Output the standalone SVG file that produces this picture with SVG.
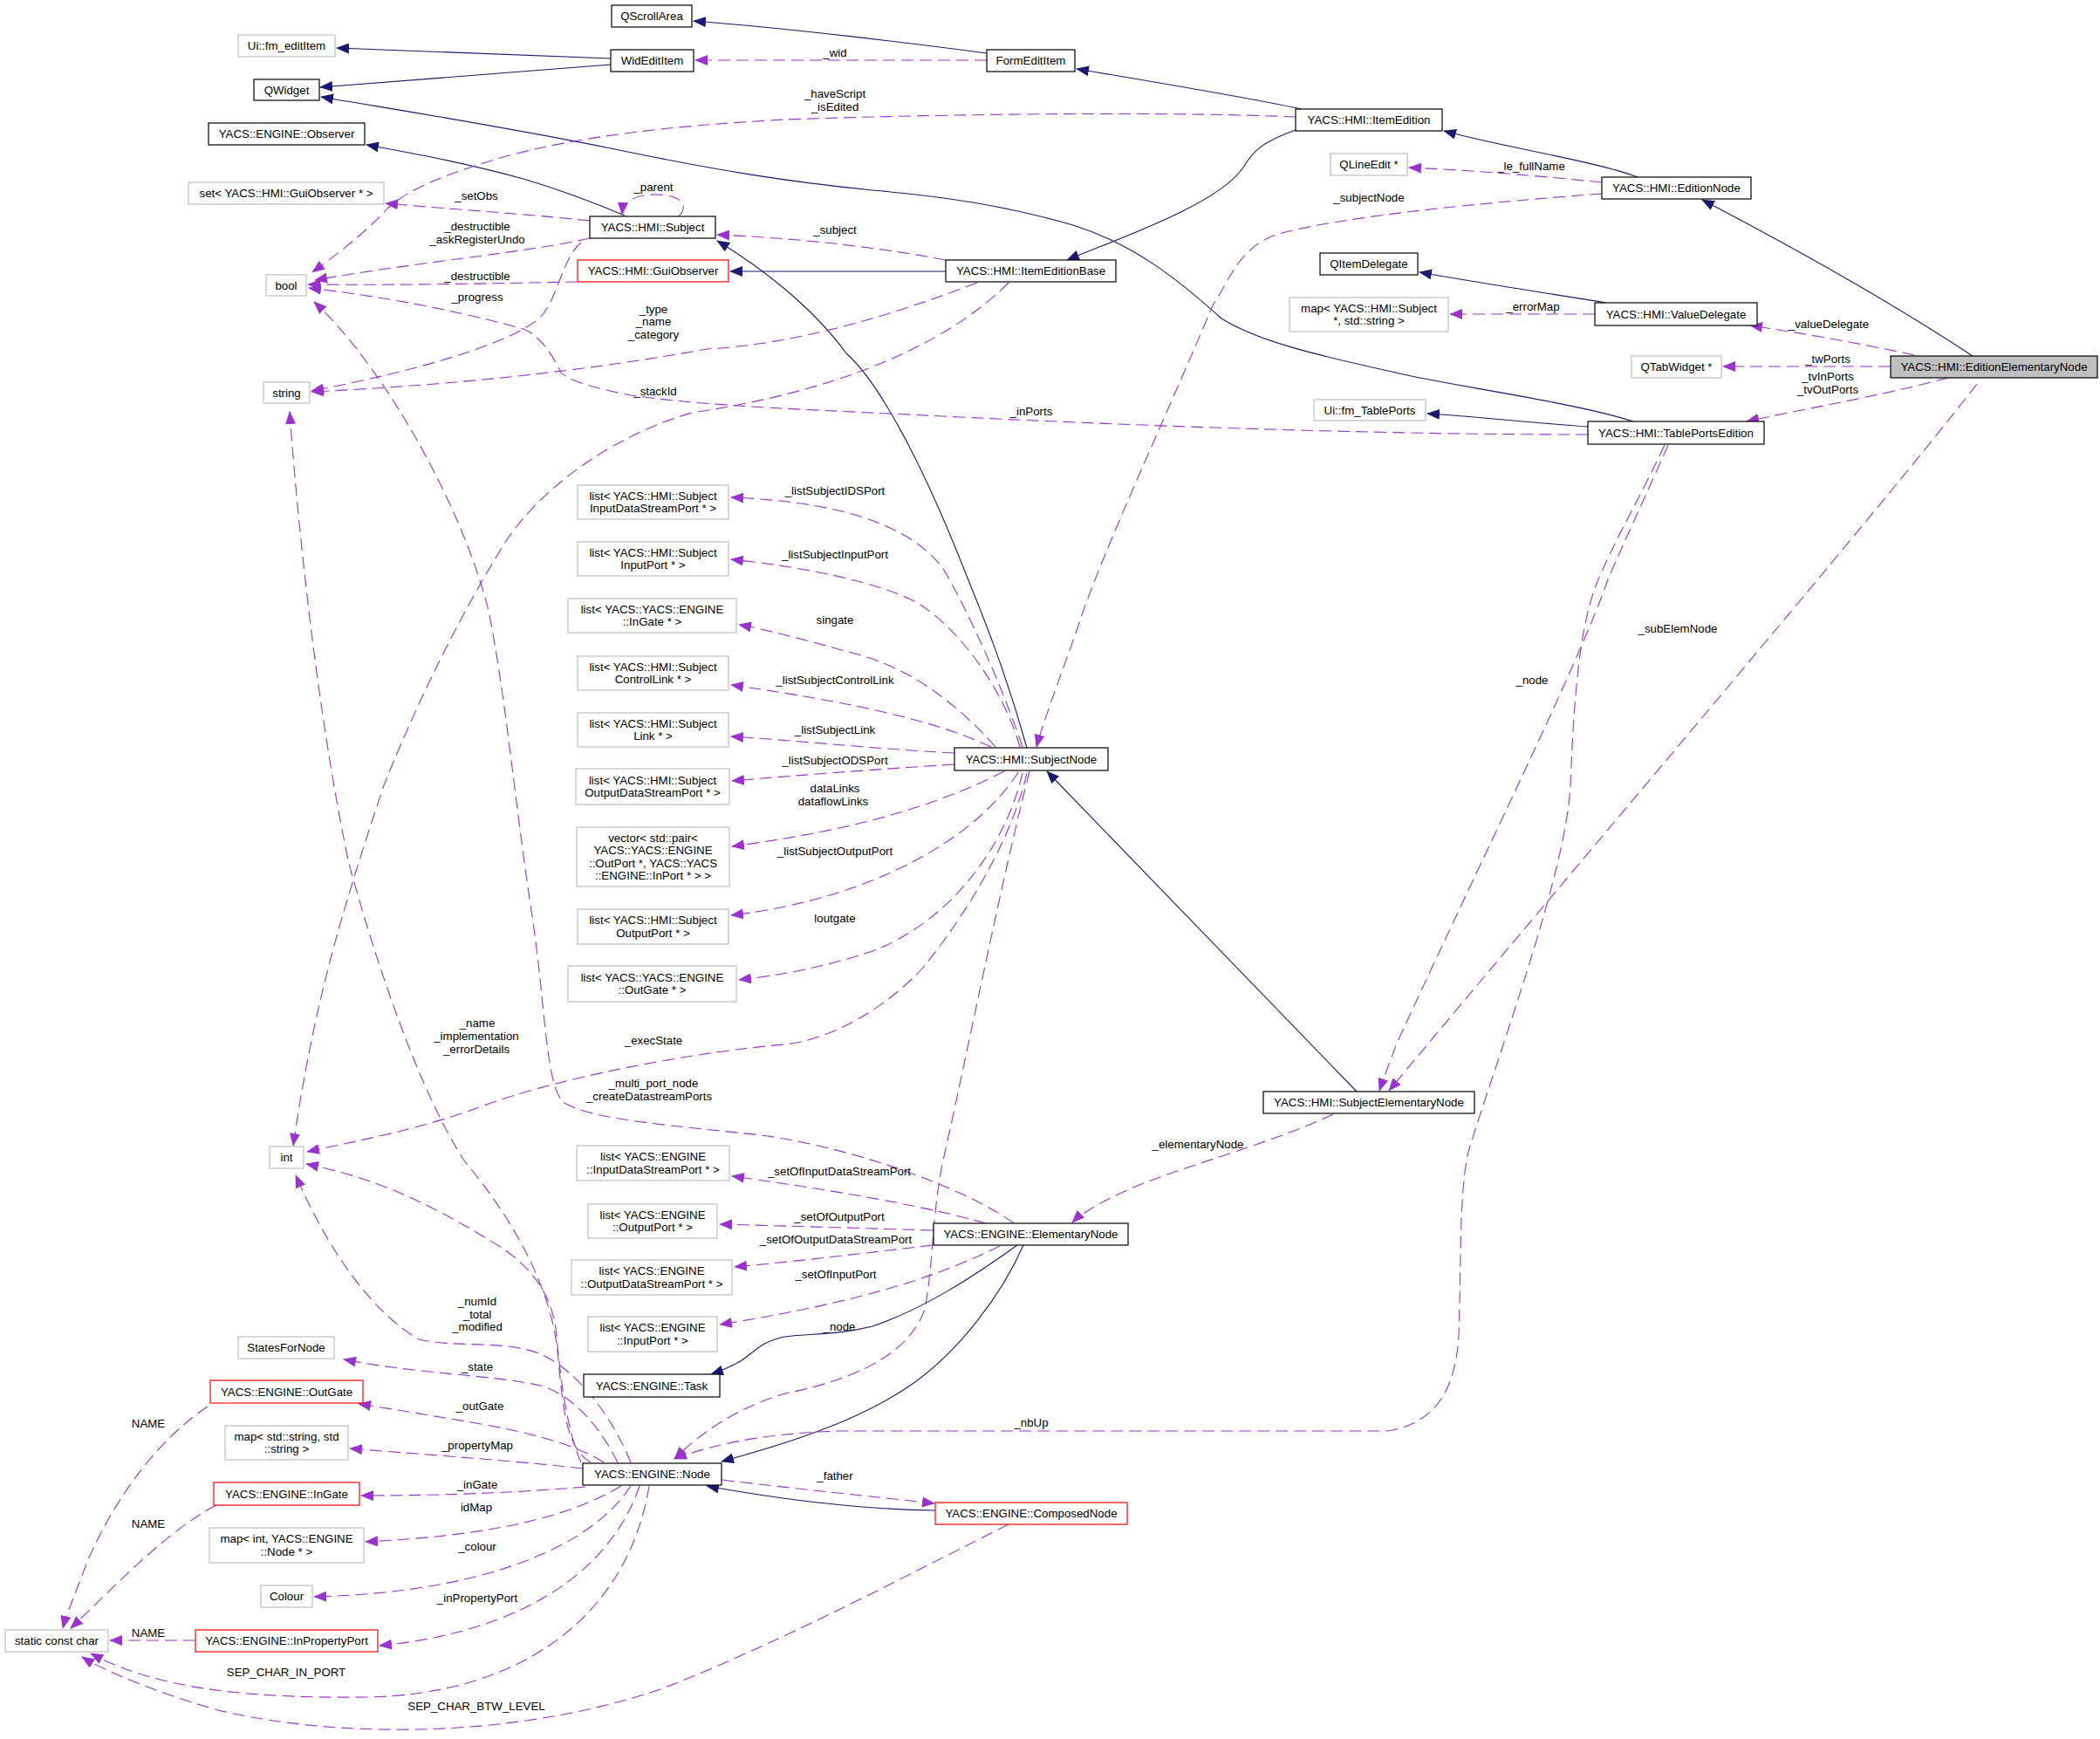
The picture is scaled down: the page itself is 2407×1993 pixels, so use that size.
<svg xmlns="http://www.w3.org/2000/svg" width="2407" height="1993" viewBox="0 0 2407 1993">
<style>
rect{fill:#fff;stroke:#000;stroke-width:1.2}
.g rect{stroke:#bfbfbf}
.r rect{stroke:#ff0000}
.f rect{fill:#bfbfbf}
text{font-family:"Liberation Sans",Arial,Helvetica,sans-serif;font-size:13.3px;text-anchor:middle;fill:#000}
.inh{stroke:#191970;fill:none;stroke-width:1.1;marker-end:url(#ai)}
.dep{stroke:#9a32cd;fill:none;stroke-width:1.1;stroke-dasharray:14,7;marker-end:url(#ad)}
</style>
<defs>
<marker id="ai" markerUnits="userSpaceOnUse" markerWidth="15" markerHeight="12" viewBox="0 0 15 12" refX="14" refY="6" orient="auto"><path d="M0,0 L15,6 L0,12 z" fill="#191970" stroke="none"/></marker>
<marker id="ad" markerUnits="userSpaceOnUse" markerWidth="15" markerHeight="12" viewBox="0 0 15 12" refX="14" refY="6" orient="auto"><path d="M0,0 L15,6 L0,12 z" fill="#9a32cd" stroke="none"/></marker>
</defs>
<rect x="0" y="0" width="2407" height="1993" style="fill:#fff;stroke:none"/>

<g id="edges">
<!-- inheritance -->
<path class="inh" d="M1131,61 C1050,50 900,32 795,24"/>
<path class="inh" d="M700,67 L386,55"/>
<path class="inh" d="M700,74 L367,100"/>
<path class="inh" d="M1492,125 C1420,110 1300,90 1234,79"/>
<path class="inh" d="M1877,203 C1830,185 1720,168 1655,150"/>
<path class="inh" d="M1485,149 C1445,163 1435,175 1425,192 C1395,235 1285,272 1223,298"/>
<path class="inh" d="M1084,311 L837,311"/>
<path class="inh" d="M716,247 C690,236 650,220 600,205 C530,186 470,175 420,166"/>
<path class="inh" d="M1177,857 C1150,760 1120,690 1100,640 C1060,540 1010,440 970,405 C930,350 870,305 822,276"/>
<path class="inh" d="M1872,483 C1800,460 1650,440 1600,427 C1500,405 1440,390 1400,365 C1350,320 1300,280 1230,258 C1150,235 1080,225 1000,218 C900,208 820,195 700,170 C550,140 430,122 368,111"/>
<path class="inh" d="M1820,489 C1750,484 1700,478 1636,474"/>
<path class="inh" d="M1841,347 C1780,337 1700,325 1627,312"/>
<path class="inh" d="M2261,408 C2150,335 2020,265 1951,229"/>
<path class="inh" d="M1555,1251 L1200,884"/>
<path class="inh" d="M1166,1427 C1120,1460 1060,1500 1000,1520 C960,1530 930,1528 900,1532 C870,1537 860,1555 845,1562 C832,1569 824,1572 815,1575"/>
<path class="inh" d="M1173,1427 C1150,1480 1100,1550 1040,1590 C980,1630 900,1655 827,1675"/>
<path class="inh" d="M1072,1731 C1000,1730 920,1723 810,1703"/>
<!-- usage -->
<path class="dep" d="M1131,69 L797,69"/>
<path class="dep" d="M1485,134 C1350,128 1100,130 900,137 C750,145 640,160 560,185 C480,210 460,225 444,239 C420,265 395,285 358,312"/>
<path class="dep" d="M1836,209 C1750,200 1680,195 1615,192"/>
<path class="dep" d="M1836,222 C1700,232 1520,250 1460,270 C1420,285 1410,320 1390,350 C1340,470 1260,640 1235,720 C1210,790 1195,830 1188,856"/>
<path class="dep" d="M1828,360 L1662,360"/>
<path class="dep" d="M2194,407 C2130,393 2060,381 2006,373"/>
<path class="dep" d="M2167,420 L1975,420"/>
<path class="dep" d="M2233,433 C2150,455 2060,470 2002,483"/>
<path class="dep" d="M2266,440 C2150,590 1800,1000 1592,1250"/>
<path class="dep" d="M1912,510 C1890,560 1862,620 1843,664 C1810,760 1700,980 1600,1198 C1592,1220 1586,1235 1581,1250"/>
<path class="dep" d="M1908,510 C1880,570 1850,620 1830,669 C1810,720 1804,800 1800,900 C1795,1000 1720,1200 1683,1320 C1672,1370 1675,1450 1672,1530 C1668,1600 1640,1632 1590,1640 L960,1640 C900,1642 830,1650 773,1672"/>
<path class="dep" d="M778,248 C790,235 782,223 750,223 C726,223 714,232 713,246"/>
<path class="dep" d="M676,253 C600,245 520,240 442,233"/>
<path class="dep" d="M676,273 C600,290 480,300 361,321"/>
<path class="dep" d="M662,323 C560,325 450,327 353,326"/>
<path class="dep" d="M666,278 C645,295 640,340 620,363 C590,392 480,425 357,448"/>
<path class="dep" d="M1820,498 C1600,498 1350,490 1100,478 C950,470 820,467 723,453 C680,445 650,435 643,427 C635,410 620,385 600,377 C520,355 440,340 354,330"/>
<path class="dep" d="M1084,298 C1000,282 900,272 822,269"/>
<path class="dep" d="M1120,324 C1000,370 900,395 810,400 C700,420 550,440 357,449"/>
<path class="dep" d="M1156,324 C1080,400 950,450 793,473 C700,500 620,560 580,620 C530,700 480,800 440,900 C390,1050 360,1150 336,1313"/>
<path class="dep" d="M1162,1402 C1120,1370 1000,1320 880,1302 C780,1290 680,1285 645,1263 C625,1240 625,1150 610,1050 C590,920 580,800 560,700 C530,580 440,420 360,346"/>
<path class="dep" d="M677,1676 C650,1660 646,1620 640,1560 C635,1480 590,1400 532,1330 C480,1250 430,1100 400,990 C370,850 345,650 332,472"/>
<path class="dep" d="M723,1676 C700,1620 660,1570 620,1552 C580,1535 520,1545 480,1535 C420,1500 370,1420 339,1347"/>
<path class="dep" d="M666,1676 C650,1640 642,1580 638,1530 C632,1470 594,1440 557,1419 C480,1372 420,1348 351,1334"/>
<path class="dep" d="M1177,886 C1160,960 1110,1045 1058,1109 C1020,1150 960,1190 900,1197 C800,1205 650,1233 560,1265 C480,1295 420,1305 352,1320"/>
<path class="dep" d="M1172,856 C1150,790 1110,700 1080,650 C1040,600 960,575 838,570"/>
<path class="dep" d="M1169,856 C1150,790 1100,720 1050,690 C1000,665 920,650 838,641"/>
<path class="dep" d="M1141,856 C1100,810 1050,770 990,752 C930,735 880,722 847,716"/>
<path class="dep" d="M1136,856 C1080,830 1000,808 838,785"/>
<path class="dep" d="M1094,863 C1000,858 930,850 838,844"/>
<path class="dep" d="M1094,876 C1000,882 920,888 839,895"/>
<path class="dep" d="M1151,884 C1080,920 990,950 839,970"/>
<path class="dep" d="M1167,885 C1120,960 1000,1030 838,1049"/>
<path class="dep" d="M1172,886 C1150,980 1080,1060 1000,1090 C940,1110 890,1118 847,1123"/>
<path class="dep" d="M1180,884 C1150,1000 1110,1200 1081,1330 C1068,1390 1070,1450 1060,1500 C1040,1560 960,1585 900,1597 C840,1615 800,1645 773,1672"/>
<path class="dep" d="M1528,1277 C1470,1305 1380,1330 1316,1354 C1270,1372 1240,1390 1229,1401"/>
<path class="dep" d="M1130,1402 C1080,1388 1000,1370 839,1348"/>
<path class="dep" d="M1069,1410 C1000,1408 900,1405 825,1403"/>
<path class="dep" d="M1069,1427 C1000,1435 920,1445 842,1452"/>
<path class="dep" d="M1146,1428 C1080,1460 1000,1490 825,1518"/>
<path class="dep" d="M708,1676 C690,1640 660,1600 620,1588 C560,1575 480,1575 394,1558"/>
<path class="dep" d="M692,1676 C660,1655 600,1640 540,1630 C480,1620 445,1614 411,1609"/>
<path class="dep" d="M668,1683 C600,1675 500,1668 401,1660"/>
<path class="dep" d="M671,1704 C600,1710 520,1714 414,1714"/>
<path class="dep" d="M712,1703 C650,1740 560,1760 419,1767"/>
<path class="dep" d="M723,1703 C680,1770 560,1825 360,1830"/>
<path class="dep" d="M733,1703 C700,1800 600,1870 435,1886"/>
<path class="dep" d="M744,1703 C720,1850 600,1942 420,1945 C260,1947 170,1930 104,1895"/>
<path class="dep" d="M1156,1747 C1050,1800 900,1880 760,1935 C600,1990 400,1995 250,1960 C180,1940 120,1915 94,1899"/>
<path class="dep" d="M828,1696 C900,1705 1000,1715 1071,1723"/>
<path class="dep" d="M224,1880 L126,1880"/>
<path class="dep" d="M248,1725 C190,1755 130,1820 81,1866"/>
<path class="dep" d="M238,1612 C180,1650 130,1720 100,1790 C85,1830 76,1850 72,1866"/>
</g>

<g id="labels">
<text x="957" y="65">_wid</text>
<text x="957" y="112">_haveScript</text>
<text x="957" y="127">_isEdited</text>
<text x="957" y="268">_subject</text>
<text x="1182" y="476">_inPorts</text>
<text x="957" y="567">_listSubjectIDSPort</text>
<text x="957" y="640">_listSubjectInputPort</text>
<text x="1569" y="231">_subjectNode</text>
<text x="1755" y="195">_le_fullName</text>
<text x="1757" y="356">_errorMap</text>
<text x="2096" y="376">_valueDelegate</text>
<text x="2095" y="416">_twPorts</text>
<text x="2095" y="436">_tvInPorts</text>
<text x="2095" y="451">_tvOutPorts</text>
<text x="749" y="219">_parent</text>
<text x="546" y="229">_setObs</text>
<text x="547" y="264">_destructible</text>
<text x="547" y="279">_askRegisterUndo</text>
<text x="547" y="321">_destructible</text>
<text x="547" y="345">_progress</text>
<text x="749" y="359">_type</text>
<text x="749" y="373">_name</text>
<text x="749" y="388">_category</text>
<text x="751" y="453">_stackId</text>
<text x="547" y="1177">_name</text>
<text x="546" y="1192">_implementation</text>
<text x="546" y="1207">_errorDetails</text>
<text x="749" y="1197">_execState</text>
<text x="749" y="1246">_multi_port_node</text>
<text x="744" y="1261">_createDatastreamPorts</text>
<text x="957" y="715">singate</text>
<text x="957" y="784">_listSubjectControlLink</text>
<text x="957" y="841">_listSubjectLink</text>
<text x="957" y="876">_listSubjectODSPort</text>
<text x="957" y="908">dataLinks</text>
<text x="955" y="923">dataflowLinks</text>
<text x="957" y="980">_listSubjectOutputPort</text>
<text x="957" y="1057">loutgate</text>
<text x="1373" y="1316">_elementaryNode</text>
<text x="1923" y="725">_subElemNode</text>
<text x="1756" y="784">_node</text>
<text x="547" y="1496">_numId</text>
<text x="547" y="1511">_total</text>
<text x="547" y="1525">_modified</text>
<text x="547" y="1571">_state</text>
<text x="550" y="1616">_outGate</text>
<text x="547" y="1661">_propertyMap</text>
<text x="547" y="1706">_inGate</text>
<text x="546" y="1732">idMap</text>
<text x="547" y="1777">_colour</text>
<text x="547" y="1836">_inPropertyPort</text>
<text x="328" y="1921">SEP_CHAR_IN_PORT</text>
<text x="546" y="1960">SEP_CHAR_BTW_LEVEL</text>
<text x="170" y="1636">NAME</text>
<text x="170" y="1751">NAME</text>
<text x="170" y="1876">NAME</text>
<text x="962" y="1347">_setOfInputDataStreamPort</text>
<text x="962" y="1399">_setOfOutputPort</text>
<text x="958" y="1425">_setOfOutputDataStreamPort</text>
<text x="958" y="1465">_setOfInputPort</text>
<text x="962" y="1525">_node</text>
<text x="1182" y="1635">_nbUp</text>
<text x="957" y="1696">_father</text>
</g>

<g id="n-QScrollArea"><rect x="701" y="6" width="92" height="25"/><text x="747" y="23">QScrollArea</text></g>
<g id="n-WidEditItem"><rect x="700" y="57" width="95" height="25"/><text x="747.5" y="74">WidEditItem</text></g>
<g id="n-fm_editItem" class="g"><rect x="273" y="40" width="111" height="25"/><text x="328.5" y="57">Ui::fm_editItem</text></g>
<g id="n-QWidget"><rect x="291" y="91" width="75" height="24"/><text x="328.5" y="107.5">QWidget</text></g>
<g id="n-FormEditItem"><rect x="1131" y="57" width="101" height="25"/><text x="1181.5" y="74">FormEditItem</text></g>
<g id="n-ItemEdition"><rect x="1485" y="125" width="168" height="25"/><text x="1569" y="142">YACS::HMI::ItemEdition</text></g>
<g id="n-EditionNode"><rect x="1836" y="203" width="171" height="25"/><text x="1921.5" y="220">YACS::HMI::EditionNode</text></g>
<g id="n-Observer"><rect x="239" y="141" width="179" height="25"/><text x="328.5" y="158">YACS::ENGINE::Observer</text></g>
<g id="n-setGuiObserver" class="g"><rect x="216" y="209" width="224" height="25"/><text x="328" y="226">set&lt; YACS::HMI::GuiObserver * &gt;</text></g>
<g id="n-Subject"><rect x="676" y="248" width="144" height="25"/><text x="748" y="265">YACS::HMI::Subject</text></g>
<g id="n-GuiObserver" class="r"><rect x="662" y="298" width="173" height="25"/><text x="748.5" y="315">YACS::HMI::GuiObserver</text></g>
<g id="n-ItemEditionBase"><rect x="1084" y="298" width="195" height="25"/><text x="1181.5" y="315">YACS::HMI::ItemEditionBase</text></g>
<g id="n-bool" class="g"><rect x="305" y="315" width="46" height="24"/><text x="328" y="331.5">bool</text></g>
<g id="n-QLineEdit" class="g"><rect x="1525" y="176" width="88" height="25"/><text x="1569" y="193">QLineEdit *</text></g>
<g id="n-QItemDelegate"><rect x="1513" y="290" width="112" height="25"/><text x="1569" y="307">QItemDelegate</text></g>
<g id="n-mapSubjectString" class="g"><rect x="1478" y="341" width="182" height="39"/><text x="1569" y="357.5">map&lt; YACS::HMI::Subject</text><text x="1569" y="372">*, std::string &gt;</text></g>
<g id="n-ValueDelegate"><rect x="1828" y="347" width="186" height="26"/><text x="1921" y="364.5">YACS::HMI::ValueDelegate</text></g>
<g id="n-QTabWidget" class="g"><rect x="1870" y="408" width="103" height="25"/><text x="1921.5" y="425">QTabWidget *</text></g>
<g id="n-EditionElementaryNode" class="f"><rect x="2167" y="408" width="237" height="25"/><text x="2285.5" y="425">YACS::HMI::EditionElementaryNode</text></g>
<g id="n-string" class="g"><rect x="302" y="438" width="53" height="24"/><text x="328.5" y="454.5">string</text></g>
<g id="n-fm_TablePorts" class="g"><rect x="1506" y="458" width="128" height="24"/><text x="1570" y="474.5">Ui::fm_TablePorts</text></g>
<g id="n-TablePortsEdition"><rect x="1820" y="483" width="202" height="26"/><text x="1921" y="500.5">YACS::HMI::TablePortsEdition</text></g>

<g id="n-listIDSPort" class="g"><rect x="662" y="556" width="173" height="39"/><text x="748.5" y="572.5">list&lt; YACS::HMI::Subject</text><text x="748.5" y="587">InputDataStreamPort * &gt;</text></g>
<g id="n-listInputPort" class="g"><rect x="662" y="621" width="173" height="39"/><text x="748.5" y="637.5">list&lt; YACS::HMI::Subject</text><text x="748.5" y="652">InputPort * &gt;</text></g>
<g id="n-listInGate" class="g"><rect x="651" y="686" width="193" height="39"/><text x="747.5" y="702.5">list&lt; YACS::YACS::ENGINE</text><text x="747.5" y="717">::InGate * &gt;</text></g>
<g id="n-listControlLink" class="g"><rect x="662" y="752" width="173" height="39"/><text x="748.5" y="768.5">list&lt; YACS::HMI::Subject</text><text x="748.5" y="783">ControlLink * &gt;</text></g>
<g id="n-listLink" class="g"><rect x="662" y="817" width="173" height="39"/><text x="748.5" y="833.5">list&lt; YACS::HMI::Subject</text><text x="748.5" y="848">Link * &gt;</text></g>
<g id="n-listODSPort" class="g"><rect x="660" y="881" width="176" height="41"/><text x="748" y="898.5">list&lt; YACS::HMI::Subject</text><text x="748" y="913">OutputDataStreamPort * &gt;</text></g>
<g id="n-vectorPair" class="g"><rect x="661" y="948" width="175" height="68"/><text x="748.5" y="964.5">vector&lt; std::pair&lt;</text><text x="748.5" y="979">YACS::YACS::ENGINE</text><text x="748.5" y="993.5">::OutPort *, YACS::YACS</text><text x="748.5" y="1008">::ENGINE::InPort * &gt; &gt;</text></g>
<g id="n-listOutputPort" class="g"><rect x="662" y="1042" width="173" height="40"/><text x="748.5" y="1059">list&lt; YACS::HMI::Subject</text><text x="748.5" y="1073.5">OutputPort * &gt;</text></g>
<g id="n-listOutGate" class="g"><rect x="651" y="1107" width="193" height="41"/><text x="747.5" y="1124.5">list&lt; YACS::YACS::ENGINE</text><text x="747.5" y="1139">::OutGate * &gt;</text></g>

<g id="n-SubjectNode"><rect x="1094" y="857" width="176" height="26"/><text x="1182" y="874.5">YACS::HMI::SubjectNode</text></g>
<g id="n-SubjectElementaryNode"><rect x="1448" y="1251" width="242" height="25"/><text x="1569" y="1268">YACS::HMI::SubjectElementaryNode</text></g>
<g id="n-int" class="g"><rect x="309" y="1314" width="39" height="25"/><text x="328.5" y="1331">int</text></g>

<g id="n-engIDSPort" class="g"><rect x="661" y="1313" width="175" height="40"/><text x="748.5" y="1330">list&lt; YACS::ENGINE</text><text x="748.5" y="1344.5">::InputDataStreamPort * &gt;</text></g>
<g id="n-engOutputPort" class="g"><rect x="674" y="1380" width="148" height="39"/><text x="748" y="1396.5">list&lt; YACS::ENGINE</text><text x="748" y="1411">::OutputPort * &gt;</text></g>
<g id="n-engODSPort" class="g"><rect x="655" y="1444" width="184" height="40"/><text x="747" y="1461">list&lt; YACS::ENGINE</text><text x="747" y="1475.5">::OutputDataStreamPort * &gt;</text></g>
<g id="n-engInputPort" class="g"><rect x="674" y="1509" width="148" height="40"/><text x="748" y="1526">list&lt; YACS::ENGINE</text><text x="748" y="1540.5">::InputPort * &gt;</text></g>

<g id="n-ElementaryNode"><rect x="1070" y="1402" width="223" height="25"/><text x="1181.5" y="1419">YACS::ENGINE::ElementaryNode</text></g>
<g id="n-StatesForNode" class="g"><rect x="273" y="1532" width="110" height="25"/><text x="328" y="1549">StatesForNode</text></g>
<g id="n-Task"><rect x="669" y="1575" width="156" height="26"/><text x="747" y="1592.5">YACS::ENGINE::Task</text></g>
<g id="n-OutGate" class="r"><rect x="241" y="1582" width="175" height="26"/><text x="328.5" y="1599.5">YACS::ENGINE::OutGate</text></g>
<g id="n-mapStringString" class="g"><rect x="258" y="1634" width="141" height="39"/><text x="328.5" y="1650.5">map&lt; std::string, std</text><text x="328.5" y="1665">::string &gt;</text></g>
<g id="n-Node"><rect x="668" y="1677" width="159" height="25"/><text x="747.5" y="1694">YACS::ENGINE::Node</text></g>
<g id="n-InGate" class="r"><rect x="245" y="1699" width="167" height="26"/><text x="328.5" y="1716.5">YACS::ENGINE::InGate</text></g>
<g id="n-ComposedNode" class="r"><rect x="1072" y="1722" width="220" height="25"/><text x="1182" y="1739">YACS::ENGINE::ComposedNode</text></g>
<g id="n-mapIntNode" class="g"><rect x="240" y="1751" width="177" height="40"/><text x="328.5" y="1768">map&lt; int, YACS::ENGINE</text><text x="328.5" y="1782.5">::Node * &gt;</text></g>
<g id="n-Colour" class="g"><rect x="299" y="1817" width="59" height="25"/><text x="328.5" y="1834">Colour</text></g>
<g id="n-staticConstChar" class="g"><rect x="6" y="1868" width="118" height="25"/><text x="65" y="1885">static const char</text></g>
<g id="n-InPropertyPort" class="r"><rect x="224" y="1868" width="209" height="25"/><text x="328.5" y="1885">YACS::ENGINE::InPropertyPort</text></g>
</svg>
